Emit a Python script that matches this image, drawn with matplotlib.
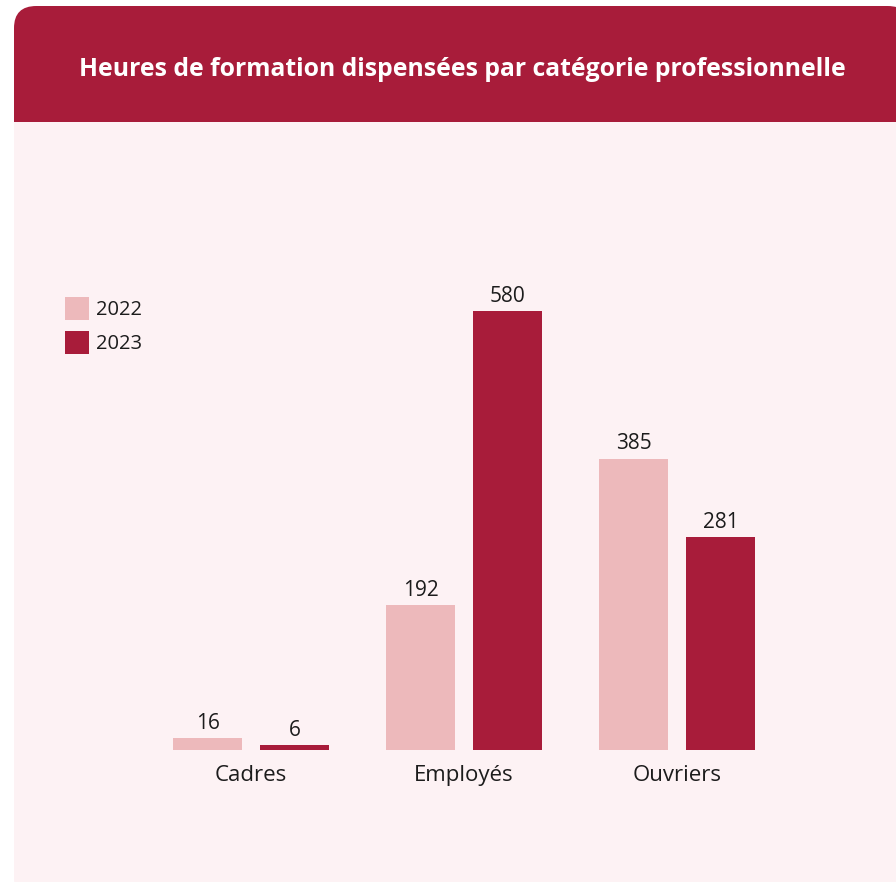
import matplotlib
matplotlib.use("Agg")
import matplotlib.pyplot as plt
from matplotlib.patches import FancyBboxPatch, Rectangle
import numpy as np

plt.rcParams["font.family"] = ["Open Sans", "DejaVu Sans"]

categories = ["Cadres", "Employés", "Ouvriers"]
years = ["2022", "2023"]
hours_2022 = [16, 192, 385]
hours_2023 = [6, 580, 281]

HEADER = "#A81C3A"
LIGHT = "#EDB9BB"
BG = "#FDF2F4"
TXT = "#1C1C1C"

W, H = 896, 882
fig = plt.figure(figsize=(W / 100, H / 100), dpi=100)
fig.patch.set_facecolor("white")

def fx(px): return px / W
def fy(py): return 1 - py / H

# card with rounded top corners, header band
card = FancyBboxPatch((fx(14), fy(900)), fx(910) - fx(14), fy(6) - fy(900),
                      boxstyle="round,pad=0,rounding_size=0.025",
                      transform=fig.transFigure, facecolor=BG, edgecolor="none", zorder=-2)
fig.patches.append(card)
head = FancyBboxPatch((fx(14), fy(122)), fx(910) - fx(14), fy(6) - fy(122),
                      boxstyle="round,pad=0,rounding_size=0.025",
                      transform=fig.transFigure, facecolor=HEADER, edgecolor="none", zorder=-1)
fig.patches.append(head)
fig.patches.append(Rectangle((fx(14), fy(122)), fx(910) - fx(14), fy(60) - fy(122),
                             transform=fig.transFigure, facecolor=HEADER, edgecolor="none", zorder=-1))
fig.text(fx(462), fy(69), "Heures de formation dispensées par catégorie professionnelle",
         ha="center", va="center", color="white", fontsize=17.8, fontweight="bold", zorder=3)

# axes placed in pixel space: group spacing 213 px, baseline y=750
px_per_unit_x = 213.0
px_per_val = 439.0 / 580
ax_l, ax_r, ax_t, ax_b = 145, 785, 150, 750
ax = fig.add_axes([fx(ax_l), fy(ax_b), (ax_r - ax_l) / W, (ax_b - ax_t) / H], zorder=5)
ax.set_facecolor("none")
ax.set_xlim((ax_l - 251) / px_per_unit_x, (ax_r - 251) / px_per_unit_x)
ax.set_ylim(0, (ax_b - ax_t) / px_per_val)

x = np.arange(len(categories))
bw = 69 / px_per_unit_x
off = 43.5 / px_per_unit_x
b1 = ax.bar(x - off, hours_2022, bw, color=LIGHT, label=years[0])
b2 = ax.bar(x + off, hours_2023, bw, color=HEADER, label=years[1])
for bars in (b1, b2):
    for r in bars:
        ax.annotate(f"{r.get_height():.0f}", (r.get_x() + r.get_width() / 2, r.get_height()),
                    xytext=(0, 3), textcoords="offset points", ha="center", va="bottom",
                    fontsize=15, color=TXT)

ax.set_xticks(x)
ax.set_xticklabels(categories, fontsize=16, color=TXT)
ax.tick_params(axis="x", length=0, pad=11)
ax.set_yticks([])
for s in ax.spines.values():
    s.set_visible(False)

fig.legend(handles=[b1, b2], loc="upper left", bbox_to_anchor=(fx(62), fy(294)),
           frameon=False, fontsize=14.5, handlelength=1.18, handleheight=1.35,
           handletextpad=0.35, labelspacing=0.55, borderaxespad=0, borderpad=0.15,
           labelcolor=TXT)

fig.savefig("out.png", dpi=100, facecolor="white")
